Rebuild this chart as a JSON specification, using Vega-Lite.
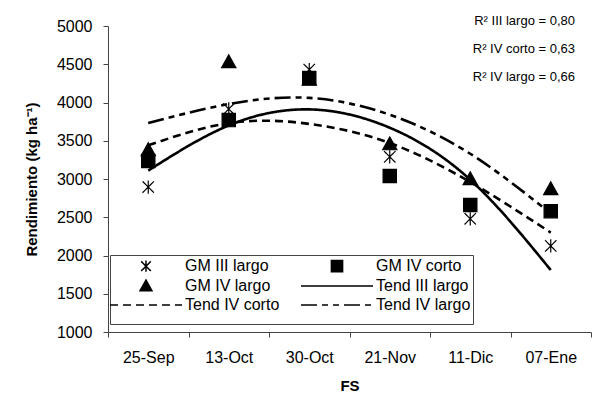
{
  "$schema": "https://vega.github.io/schema/vega-lite/v6.json",
  "width": 483,
  "height": 306,
  "autosize": {"type": "none"},
  "padding": {"left": 108, "top": 26, "right": 1, "bottom": 73},
  "background": "white",
  "title": {
    "text": ["R² III largo = 0,80", "R² IV corto = 0,63", "R² IV largo = 0,66"],
    "anchor": "end",
    "frame": "group",
    "orient": "top",
    "offset": -66,
    "dx": -16,
    "lineHeight": 28,
    "font": "Liberation Sans",
    "fontSize": 13,
    "fontWeight": "normal",
    "color": "black"
  },
  "config": {
    "view": {"stroke": null},
    "axis": {
      "labelFont": "Liberation Sans",
      "labelFontSize": 16,
      "labelColor": "black",
      "titleFont": "Liberation Sans",
      "titleFontSize": 15,
      "titleFontWeight": "bold",
      "titleColor": "black",
      "domainColor": "#444",
      "tickColor": "#444",
      "tickSize": 5,
      "grid": false
    }
  },
  "datasets": {
    "gm": [
      {"fecha": "25-Sep", "serie": "GM III largo", "valor": 2895},
      {"fecha": "25-Sep", "serie": "GM IV corto", "valor": 3235},
      {"fecha": "25-Sep", "serie": "GM IV largo", "valor": 3380},
      {"fecha": "13-Oct", "serie": "GM III largo", "valor": 3915},
      {"fecha": "13-Oct", "serie": "GM IV corto", "valor": 3770},
      {"fecha": "13-Oct", "serie": "GM IV largo", "valor": 4530},
      {"fecha": "30-Oct", "serie": "GM III largo", "valor": 4430},
      {"fecha": "30-Oct", "serie": "GM IV corto", "valor": 4320},
      {"fecha": "30-Oct", "serie": "GM IV largo", "valor": 4300},
      {"fecha": "21-Nov", "serie": "GM III largo", "valor": 3290},
      {"fecha": "21-Nov", "serie": "GM IV corto", "valor": 3040},
      {"fecha": "21-Nov", "serie": "GM IV largo", "valor": 3457},
      {"fecha": "11-Dic", "serie": "GM III largo", "valor": 2480},
      {"fecha": "11-Dic", "serie": "GM IV corto", "valor": 2660},
      {"fecha": "11-Dic", "serie": "GM IV largo", "valor": 3000},
      {"fecha": "07-Ene", "serie": "GM III largo", "valor": 2125},
      {"fecha": "07-Ene", "serie": "GM IV corto", "valor": 2580},
      {"fecha": "07-Ene", "serie": "GM IV largo", "valor": 2870}
    ],
    "tend": [
      {"fecha": "25-Sep", "serie": "Tend III largo", "valor": 3110},
      {"fecha": "13-Oct", "serie": "Tend III largo", "valor": 3700},
      {"fecha": "30-Oct", "serie": "Tend III largo", "valor": 3910},
      {"fecha": "21-Nov", "serie": "Tend III largo", "valor": 3670},
      {"fecha": "11-Dic", "serie": "Tend III largo", "valor": 2990},
      {"fecha": "07-Ene", "serie": "Tend III largo", "valor": 1810},
      {"fecha": "25-Sep", "serie": "Tend IV corto", "valor": 3440},
      {"fecha": "13-Oct", "serie": "Tend IV corto", "valor": 3730},
      {"fecha": "30-Oct", "serie": "Tend IV corto", "valor": 3720},
      {"fecha": "21-Nov", "serie": "Tend IV corto", "valor": 3470},
      {"fecha": "11-Dic", "serie": "Tend IV corto", "valor": 2960},
      {"fecha": "07-Ene", "serie": "Tend IV corto", "valor": 2300},
      {"fecha": "25-Sep", "serie": "Tend IV largo", "valor": 3730},
      {"fecha": "13-Oct", "serie": "Tend IV largo", "valor": 3980},
      {"fecha": "30-Oct", "serie": "Tend IV largo", "valor": 4060},
      {"fecha": "21-Nov", "serie": "Tend IV largo", "valor": 3840},
      {"fecha": "11-Dic", "serie": "Tend IV largo", "valor": 3330},
      {"fecha": "07-Ene", "serie": "Tend IV largo", "valor": 2550}
    ]
  },
  "encoding": {
    "x": {
      "field": "fecha",
      "type": "nominal",
      "sort": ["25-Sep", "13-Oct", "30-Oct", "21-Nov", "11-Dic", "07-Ene"],
      "scale": {"type": "band", "paddingInner": 0, "paddingOuter": 0},
      "title": "FS",
      "axis": {"labelAngle": 0, "tickBand": "extent", "labelPadding": 12, "titlePadding": 13}
    },
    "y": {
      "field": "valor",
      "type": "quantitative",
      "scale": {"domain": [1000, 5000], "nice": false, "zero": false},
      "title": "Rendimiento (kg ha⁻¹)",
      "axis": {"values": [1000, 1500, 2000, 2500, 3000, 3500, 4000, 4500, 5000], "format": "d", "labelPadding": 11, "titlePadding": 17}
    }
  },
  "layer": [
    {
      "data": {"name": "tend"},
      "mark": {"type": "line", "color": "black", "interpolate": "natural", "strokeWidth": 2.6},
      "encoding": {
        "detail": {"field": "serie", "type": "nominal"},
        "strokeDash": {
          "field": "serie", "type": "nominal",
          "scale": {
            "domain": ["GM III largo", "GM IV corto", "GM IV largo", "Tend III largo", "Tend IV corto", "Tend IV largo"],
            "range": [[1, 0], [1, 0], [1, 0], [1, 0], [8, 5], [16, 5, 6, 5, 6, 5]]
          }
        }
      }
    },
    {
      "data": {"name": "gm"},
      "mark": {"type": "point", "filled": true, "fill": "black", "stroke": "black", "strokeWidth": 1.2, "opacity": 1, "size": 361},
      "encoding": {
        "shape": {
          "field": "serie", "type": "nominal",
          "scale": {
            "domain": ["GM III largo", "GM IV corto", "GM IV largo", "Tend III largo", "Tend IV corto", "Tend IV largo"],
            "range": [
              "M0,-0.7L0,0.7M-0.6,-0.6L0.6,0.6M-0.6,0.6L0.6,-0.6",
              "M-0.7,-0.7L0.7,-0.7L0.7,0.7L-0.7,0.7Z",
              "M0,-0.75L0.75,0.6L-0.75,0.6Z",
              "M-4.5,0L4.5,0",
              "M-4.5,0L4.5,0",
              "M-4.5,0L4.5,0"
            ]
          },
          "legend": {
            "title": " ",
            "titleOrient": "bottom",
            "titleFontSize": 9,
            "titlePadding": 0,
            "orient": "none",
            "legendX": 2,
            "legendY": 229,
            "columns": 2,
            "direction": "horizontal",
            "strokeColor": "#444",
            "fillColor": "white",
            "padding": 2,
            "labelFont": "Liberation Sans",
            "labelFontSize": 16,
            "labelColor": "black",
            "labelLimit": 300,
            "symbolSize": 256,
            "symbolFillColor": "black",
            "symbolStrokeColor": "black",
            "symbolOffset": 25,
            "labelOffset": 30,
            "columnPadding": 18,
            "rowPadding": 2,
            "encode": {
              "symbols": {
                "update": {
                  "strokeWidth": {"signal": "indexof(['Tend III largo','Tend IV corto','Tend IV largo'], datum.value) >= 0 ? 2.6 : 1.2"}
                }
              }
            }
          }
        },
        "strokeDash": {
          "field": "serie", "type": "nominal",
          "scale": {
            "domain": ["GM III largo", "GM IV corto", "GM IV largo", "Tend III largo", "Tend IV corto", "Tend IV largo"],
            "range": [[1, 0], [1, 0], [1, 0], [1, 0], [8, 5], [16, 5, 6, 5, 6, 5]]
          }
        }
      }
    }
  ]
}
